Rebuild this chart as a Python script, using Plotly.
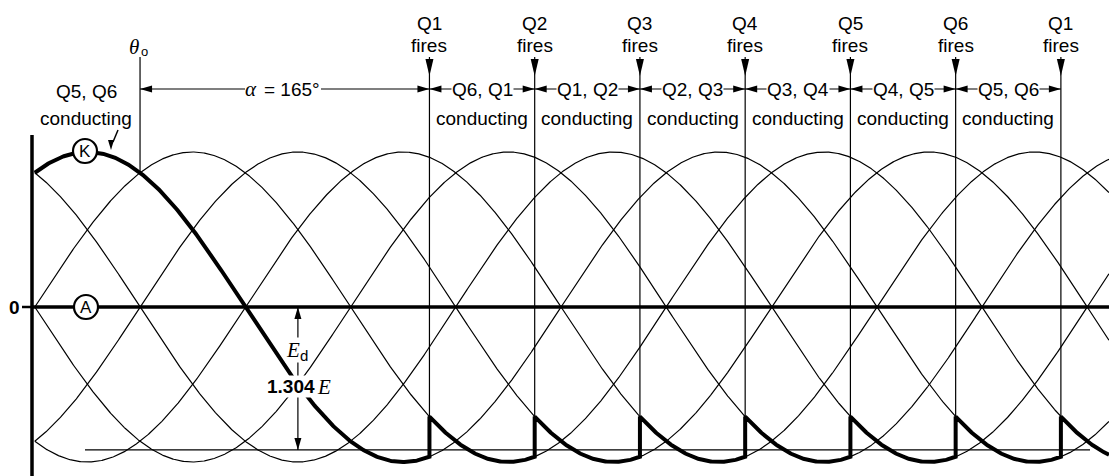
import numpy as np
import plotly.graph_objects as go

# six line-to-line voltages, phase offsets (deg)
PHASES = [0, 60, 120, 180, 240, 300]
THETA0 = 60          # natural commutation point
ALPHA = 165          # firing delay
FIRING_ANGLES = [225, 285, 345, 405, 465, 525, 585]
FIRING_LABELS = ["Q1", "Q2", "Q3", "Q4", "Q5", "Q6", "Q1"]
CONDUCTING = ["Q6, Q1", "Q1, Q2", "Q2, Q3", "Q3, Q4", "Q4, Q5", "Q5, Q6"]
ED_FACTOR = 1.304    # Ed = 1.304 E  (E = rms line voltage)
ED_ANGLE = 150
THETA_END = 612.4

W, H = 1109, 476
SANS = "Liberation Sans"
SERIF = "Liberation Serif"


def xv(px):
    return (px - 34.8) / 1.754


def yv(py):
    return (307 - py) / 155.0


fig = go.Figure()

th = np.linspace(0, THETA_END, 1500)
for ph in PHASES:
    fig.add_trace(go.Scatter(x=th, y=np.sin(np.radians(th + ph)), mode="lines",
                             line=dict(color="black", width=1.2), hoverinfo="skip"))

# cathode K potential (bold)
bx, by = [], []
t = np.linspace(0, FIRING_ANGLES[0], 300)
bx += list(t); by += list(np.sin(np.radians(t + 60)))
for n, f in enumerate(FIRING_ANGLES):
    end = FIRING_ANGLES[n + 1] if n + 1 < len(FIRING_ANGLES) else THETA_END
    t = np.linspace(f, end, 120)
    bx += list(t); by += list(np.sin(np.radians(t - 60 * n)))
fig.add_trace(go.Scatter(x=bx, y=by, mode="lines",
                         line=dict(color="black", width=4), hoverinfo="skip"))

ed_level = -ED_FACTOR / np.sqrt(2)

shapes = []


def line(x0, y0, x1, y1, w=1.2):
    shapes.append(dict(type="line", xref="x", yref="y", x0=x0, y0=y0, x1=x1, y1=y1,
                       line=dict(color="black", width=w), layer="below"))


def head(x, y, d, L=12, Wd=7):
    h = Wd / 2
    p = {"down": f"M0,0 L{-h},{L} L{h},{L} Z",
         "up": f"M0,0 L{-h},{-L} L{h},{-L} Z",
         "left": f"M0,0 L{L},{-h} L{L},{h} Z",
         "right": f"M0,0 L{-L},{-h} L{-L},{h} Z"}[d]
    shapes.append(dict(type="path", xref="x", yref="y", xsizemode="pixel", ysizemode="pixel",
                       xanchor=x, yanchor=y, path=p, fillcolor="black", line=dict(width=0)))


def circle(x, y, r=12):
    shapes.append(dict(type="circle", xref="x", yref="y", xsizemode="pixel", ysizemode="pixel",
                       xanchor=x, yanchor=y, x0=-r, x1=r, y0=-r, y1=r,
                       fillcolor="white", line=dict(color="black", width=2.2)))


# axes
x_ax = xv(32)
line(x_ax, yv(135), x_ax, yv(480), 3.5)
line(x_ax, 0, THETA_END + 5, 0, 3.5)
line(xv(22), 0, x_ax, 0, 2.5)
# Ed level line
line(xv(85), ed_level, xv(1090), ed_level, 1.2)

# firing lines
for n, f in enumerate(FIRING_ANGLES):
    line(f, yv(57), f, np.sin(np.radians(f - 60 * n)), 1.2)
    head(f, yv(76), "down", L=17, Wd=8)

# theta0 line and alpha arrow (broken around its label)
line(THETA0, yv(57), THETA0, np.sin(np.radians(THETA0 + 60)), 1.2)
y_row = yv(89)
line(THETA0, y_row, xv(245), y_row, 1.2)
line(xv(321), y_row, FIRING_ANGLES[0], y_row, 1.2)
head(THETA0, y_row, "left")
head(FIRING_ANGLES[0], y_row, "right")

# conducting arrows
for a, b in zip(FIRING_ANGLES[:-1], FIRING_ANGLES[1:]):
    line(a, y_row, b, y_row, 1.2)
    head(a, y_row, "left")
    head(b, y_row, "right")

# Ed arrow
line(ED_ANGLE, 0, ED_ANGLE, ed_level, 1.2)
head(ED_ANGLE, 0, "up", L=12, Wd=7)
head(ED_ANGLE, ed_level, "down", L=12, Wd=7)

# pointer from "conducting" to the K curve
line(xv(118), yv(130), xv(113), yv(142), 1.5)
head(xv(111), yv(150), "down", L=10, Wd=6)

circle(xv(85), yv(151))
circle(xv(86), yv(307))

ann = []


def text(px, py, s, size=19, family=SANS, bg=None, weight="normal", italic=False,
         anchor="center"):
    d = dict(x=xv(px), y=yv(py), text=s, showarrow=False, xanchor=anchor, yanchor="middle",
             font=dict(family=family, size=size, color="black", weight=weight,
                       style="italic" if italic else "normal"))
    if bg:
        d.update(bgcolor=bg, borderpad=0)
    ann.append(d)


def xp(deg):
    return 34.8 + deg * 1.754


for f, q in zip(FIRING_ANGLES, FIRING_LABELS):
    text(xp(f), 23, q)
    text(xp(f), 45, "fires")

for a, b, c in zip(FIRING_ANGLES[:-1], FIRING_ANGLES[1:], CONDUCTING):
    text(xp((a + b) / 2), 89, c, bg="white")
    text(xp((a + b) / 2), 118, "conducting")

# theta_o
text(134, 47, "θ", size=21, family=SERIF, italic=True)
text(144, 51, "o", size=13)
# alpha = 165°
text(259, 89, "α", size=21, family=SERIF, italic=True, anchor="right")
text(262, 89, f"= {ALPHA}°", anchor="left")

text(86, 91, "Q5, Q6")
text(86, 118, "conducting")
text(85, 151, "K", size=17)
text(86, 307, "A", size=17)
text(14, 307, "0", size=19, weight="bold")

# E_d  /  1.304 E
text(293, 350, "E", size=21, family=SERIF, italic=True, bg="white")
text(304, 355, "d", size=15, bg="white")
text(291, 386, f"{ED_FACTOR}", size=19, weight="bold", bg="white")
text(324, 387, "E", size=21, family=SERIF, italic=True, bg="white")

fig.update_layout(
    width=W, height=H, margin=dict(l=0, r=0, t=0, b=0),
    plot_bgcolor="white", paper_bgcolor="white", showlegend=False,
    xaxis=dict(range=[xv(0), xv(W)], visible=False, fixedrange=True),
    yaxis=dict(range=[yv(H), yv(0)], visible=False, fixedrange=True),
    shapes=shapes, annotations=ann,
)

fig.write_html("out.html", config={"displayModeBar": False},
               post_script="document.body.style.margin='0';document.body.style.overflow='hidden';")
